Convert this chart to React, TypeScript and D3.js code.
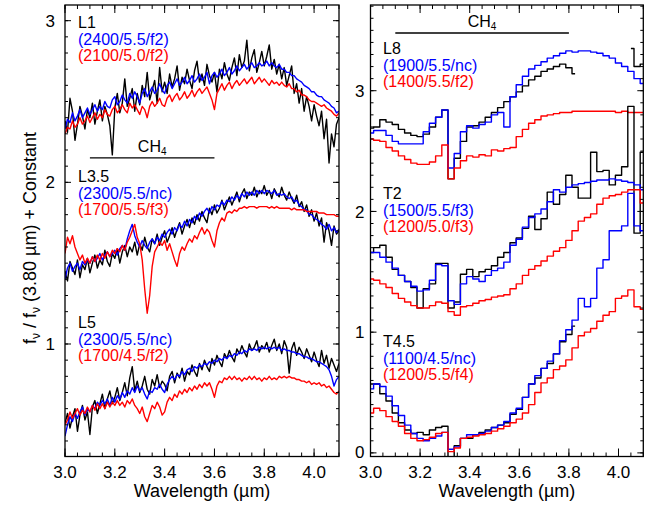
import * as d3 from 'd3'

const WIDTH = 650
const HEIGHT = 520
const FONT = '"Liberation Sans", Arial, Helvetica, sans-serif'
const BLACK = '#000000'
const BLUE = '#0000ff'
const RED = '#ff0000'

const TOP = 5
const BOTTOM = 456.5

// axis ticks
const X_TICKS = [3.0, 3.2, 3.4, 3.6, 3.8, 4.0]
const LEFT_Y_TICKS = [1, 2, 3]
const RIGHT_Y_TICKS = [0, 1, 2, 3]

// wavelength grids (um): full resolution (left) and binned (right)
const WAVE_FINE = [
  3.00, 3.01, 3.02, 3.03, 3.04, 3.05, 3.06, 3.07, 3.08, 3.09,
  3.10, 3.11, 3.12, 3.13, 3.14, 3.15, 3.16, 3.17, 3.18, 3.19,
  3.20, 3.21, 3.22, 3.23, 3.24, 3.25, 3.26, 3.27, 3.28, 3.29,
  3.30, 3.31, 3.32, 3.33, 3.34, 3.35, 3.36, 3.37, 3.38, 3.39,
  3.40, 3.41, 3.42, 3.43, 3.44, 3.45, 3.46, 3.47, 3.48, 3.49,
  3.50, 3.51, 3.52, 3.53, 3.54, 3.55, 3.56, 3.57, 3.58, 3.59,
  3.60, 3.61, 3.62, 3.63, 3.64, 3.65, 3.66, 3.67, 3.68, 3.69,
  3.70, 3.71, 3.72, 3.73, 3.74, 3.75, 3.76, 3.77, 3.78, 3.79,
  3.80, 3.81, 3.82, 3.83, 3.84, 3.85, 3.86, 3.87, 3.88, 3.89,
  3.90, 3.91, 3.92, 3.93, 3.94, 3.95, 3.96, 3.97, 3.98, 3.99,
  4.00, 4.01, 4.02, 4.03, 4.04, 4.05, 4.06, 4.07, 4.08, 4.09,
  4.10
]
const WAVE_BINNED = [
  3.000, 3.025, 3.050, 3.075, 3.100, 3.125, 3.150, 3.175, 3.200, 3.225,
  3.250, 3.275, 3.300, 3.325, 3.350, 3.375, 3.400, 3.425, 3.450, 3.475,
  3.500, 3.525, 3.550, 3.575, 3.600, 3.625, 3.650, 3.675, 3.700, 3.725,
  3.750, 3.775, 3.800, 3.825, 3.850, 3.875, 3.900, 3.925, 3.950, 3.975,
  4.000, 4.025, 4.050, 4.075, 4.100
]

// ---- left panel (L dwarfs) ----
const L1_OBS = [
  2.38, 2.31, 2.52, 2.44, 2.26, 2.36, 2.47, 2.41, 2.33, 2.45,
  2.40, 2.49, 2.36, 2.44, 2.51, 2.38, 2.47, 2.42, 2.35, 2.17,
  2.46, 2.55, 2.43, 2.49, 2.64, 2.47, 2.52, 2.58, 2.44, 2.55,
  2.48, 2.60, 2.53, 2.68, 2.51, 2.57, 2.63, 2.49, 2.71, 2.56,
  2.62, 2.55, 2.67, 2.59, 2.64, 2.72, 2.57, 2.65, 2.61, 2.70,
  2.63, 2.58, 2.69, 2.75, 2.62, 2.67, 2.60, 2.73, 2.66, 2.62,
  2.68, 2.56, 2.70, 2.64, 2.74, 2.67, 2.63, 2.71, 2.77, 2.66,
  2.79, 2.71, 2.75, 2.88, 2.69, 2.77, 2.82, 2.68, 2.74, 2.81,
  2.72, 2.78, 2.85, 2.70, 2.76, 2.67, 2.73, 2.64, 2.71, 2.60,
  2.66, 2.72, 2.55, 2.61, 2.49, 2.58, 2.44, 2.53, 2.47, 2.38,
  2.48, 2.41, 2.35, 2.44, 2.27, 2.39, 2.12, 2.30, 2.22, 2.36,
  2.40
]
const L1_HOT = [
  2.33, 2.39, 2.37, 2.43, 2.38, 2.41, 2.45, 2.40, 2.43, 2.46,
  2.42, 2.45, 2.48, 2.44, 2.47, 2.45, 2.50, 2.47, 2.46, 2.51,
  2.53, 2.48, 2.50, 2.54, 2.51, 2.49, 2.55, 2.52, 2.56, 2.53,
  2.49, 2.55, 2.58, 2.53, 2.56, 2.59, 2.55, 2.57, 2.61, 2.57,
  2.55, 2.60, 2.62, 2.58, 2.61, 2.64, 2.60, 2.62, 2.65, 2.61,
  2.63, 2.66, 2.62, 2.64, 2.67, 2.63, 2.65, 2.68, 2.61, 2.66,
  2.68, 2.65, 2.67, 2.70, 2.66, 2.68, 2.71, 2.67, 2.69, 2.72,
  2.69, 2.71, 2.73, 2.70, 2.72, 2.74, 2.71, 2.72, 2.74, 2.72,
  2.73, 2.75, 2.72, 2.74, 2.72, 2.71, 2.73, 2.70, 2.70, 2.68,
  2.68, 2.66, 2.66, 2.64, 2.63, 2.62, 2.60, 2.59, 2.58, 2.56,
  2.56, 2.54, 2.53, 2.53, 2.51, 2.50, 2.49, 2.47, 2.46, 2.43,
  2.44
]
const L1_COOL = [
  2.30, 2.34, 2.33, 2.38, 2.34, 2.36, 2.40, 2.36, 2.38, 2.41,
  2.37, 2.40, 2.43, 2.39, 2.42, 2.40, 2.45, 2.42, 2.41, 2.45,
  2.47, 2.43, 2.45, 2.48, 2.45, 2.43, 2.49, 2.46, 2.48, 2.45,
  2.42, 2.47, 2.45, 2.40, 2.47, 2.50, 2.47, 2.49, 2.52, 2.48,
  2.47, 2.52, 2.54, 2.50, 2.53, 2.55, 2.51, 2.53, 2.56, 2.52,
  2.54, 2.57, 2.53, 2.56, 2.58, 2.55, 2.57, 2.59, 2.55, 2.51,
  2.45, 2.55, 2.58, 2.61, 2.57, 2.60, 2.62, 2.58, 2.61, 2.63,
  2.60, 2.62, 2.64, 2.61, 2.63, 2.65, 2.61, 2.63, 2.65, 2.62,
  2.64, 2.62, 2.60, 2.63, 2.61, 2.62, 2.60, 2.62, 2.60, 2.59,
  2.61, 2.58, 2.58, 2.56, 2.57, 2.54, 2.54, 2.53, 2.51, 2.50,
  2.50, 2.49, 2.48, 2.47, 2.48, 2.46, 2.45, 2.44, 2.42, 2.41,
  2.43
]

const L35_OBS = [
  1.45, 1.39, 1.51, 1.47, 1.43, 1.52, 1.41, 1.49, 1.46, 1.53,
  1.44, 1.50, 1.55, 1.47, 1.52, 1.49, 1.58, 1.51, 1.48, 1.56,
  1.53, 1.59, 1.50, 1.57, 1.61, 1.54, 1.60, 1.57, 1.63, 1.55,
  1.62, 1.58, 1.66, 1.60, 1.57, 1.65, 1.62, 1.68, 1.61, 1.66,
  1.70, 1.63, 1.67, 1.72, 1.66, 1.71, 1.75, 1.68, 1.73, 1.77,
  1.72, 1.78, 1.74, 1.80, 1.76, 1.82, 1.78, 1.75, 1.84, 1.80,
  1.86, 1.81, 1.84, 1.89, 1.83, 1.87, 1.91, 1.86, 1.90, 1.94,
  1.88, 1.93, 1.96, 1.90, 1.94, 1.92, 1.97, 1.91, 1.95, 1.93,
  1.98, 1.92, 1.95, 1.90, 1.96, 1.93, 1.91, 1.97, 1.92, 1.89,
  1.94, 1.90, 1.87, 1.92, 1.85, 1.88, 1.82, 1.86, 1.79, 1.83,
  1.76, 1.81, 1.73, 1.78, 1.63, 1.75, 1.70, 1.61, 1.73, 1.68,
  1.70
]
const L35_HOT = [
  1.40, 1.47, 1.50, 1.45, 1.48, 1.50, 1.46, 1.51, 1.49, 1.52,
  1.50, 1.54, 1.51, 1.53, 1.56, 1.52, 1.55, 1.57, 1.54, 1.56,
  1.58, 1.55, 1.59, 1.61, 1.58, 1.65, 1.70, 1.74, 1.67, 1.63,
  1.60, 1.64, 1.61, 1.59, 1.63, 1.65, 1.62, 1.66, 1.64, 1.68,
  1.66, 1.69, 1.71, 1.68, 1.72, 1.70, 1.74, 1.72, 1.76, 1.73,
  1.77, 1.75, 1.79, 1.77, 1.81, 1.79, 1.82, 1.84, 1.81, 1.85,
  1.83, 1.86, 1.85, 1.88, 1.86, 1.89, 1.88, 1.91, 1.89, 1.92,
  1.90, 1.93, 1.91, 1.94, 1.92, 1.94, 1.92, 1.95, 1.93, 1.95,
  1.93, 1.95, 1.94, 1.93, 1.95, 1.92, 1.93, 1.92, 1.93, 1.91,
  1.90, 1.91, 1.88, 1.89, 1.86, 1.85, 1.83, 1.83, 1.80, 1.80,
  1.78, 1.77, 1.76, 1.74, 1.73, 1.71, 1.74, 1.70, 1.72, 1.69,
  1.71
]
const L35_COOL = [
  1.56, 1.66, 1.62, 1.67, 1.60, 1.56, 1.52, 1.55, 1.50, 1.53,
  1.50, 1.54, 1.51, 1.55, 1.52, 1.56, 1.53, 1.57, 1.54, 1.58,
  1.56, 1.59, 1.57, 1.61, 1.58, 1.63, 1.66, 1.70, 1.74, 1.66,
  1.62, 1.52, 1.34, 1.19, 1.30, 1.48, 1.57, 1.60, 1.63, 1.61,
  1.64, 1.58, 1.62, 1.57, 1.52, 1.48, 1.56, 1.60, 1.58, 1.62,
  1.65, 1.63, 1.67, 1.65, 1.69, 1.72, 1.68, 1.71, 1.69, 1.64,
  1.60, 1.70, 1.75, 1.78, 1.76, 1.81, 1.82, 1.81, 1.83, 1.82,
  1.84, 1.84, 1.85, 1.84, 1.85, 1.85, 1.85, 1.84, 1.85, 1.85,
  1.85, 1.85, 1.84, 1.85, 1.84, 1.85, 1.84, 1.84, 1.84, 1.84,
  1.84, 1.83, 1.84, 1.83, 1.83, 1.83, 1.83, 1.82, 1.82, 1.82,
  1.82, 1.82, 1.81, 1.81, 1.81, 1.80, 1.80, 1.80, 1.80, 1.79,
  1.79
]

const L5_OBS = [
  0.51, 0.57, 0.48, 0.55, 0.60, 0.46, 0.56, 0.62, 0.53, 0.58,
  0.44, 0.61, 0.65, 0.57, 0.63, 0.69, 0.60, 0.66, 0.71, 0.63,
  0.67, 0.73, 0.65, 0.70, 0.76, 0.68, 0.79, 0.86, 0.71, 0.77,
  0.70, 0.74, 0.80, 0.72, 0.69, 0.78, 0.74, 0.81, 0.73, 0.77,
  0.75, 0.71, 0.80, 0.83, 0.76, 0.82, 0.79, 0.85, 0.77, 0.83,
  0.81, 0.87, 0.83, 0.80, 0.88, 0.84, 0.90, 0.86, 0.83, 0.91,
  0.87, 0.93, 0.89, 0.86, 0.94, 0.91, 0.96, 0.92, 0.89, 0.97,
  0.94, 0.99, 0.95, 0.92, 1.00, 0.96, 0.98, 1.02, 0.95, 0.99,
  0.97, 1.01, 0.95, 0.99, 1.03, 0.96, 1.00, 0.94, 1.02, 0.98,
  0.82, 0.97, 1.01, 0.93, 0.98, 0.95, 0.91, 0.97, 0.93, 0.89,
  0.95, 0.90, 0.86, 0.96, 0.88, 0.93, 0.85, 0.91, 0.87, 0.83,
  0.88
]
const L5_HOT = [
  0.43, 0.50, 0.55, 0.52, 0.57, 0.54, 0.58, 0.61, 0.56, 0.60,
  0.58, 0.62, 0.60, 0.64, 0.62, 0.65, 0.63, 0.66, 0.62, 0.67,
  0.64, 0.68, 0.66, 0.70, 0.67, 0.71, 0.69, 0.73, 0.70, 0.74,
  0.71, 0.73, 0.69, 0.66, 0.71, 0.70, 0.73, 0.72, 0.75, 0.72,
  0.70, 0.75, 0.78, 0.80, 0.78, 0.81, 0.80, 0.83, 0.81, 0.84,
  0.85, 0.83, 0.86, 0.85, 0.87, 0.86, 0.88, 0.87, 0.89, 0.88,
  0.90, 0.89, 0.91, 0.90, 0.92, 0.91, 0.93, 0.92, 0.94, 0.93,
  0.95, 0.94, 0.96, 0.95, 0.97, 0.96, 0.97, 0.96, 0.98, 0.97,
  0.98, 0.97, 0.98, 0.97, 0.98, 0.97, 0.98, 0.96, 0.97, 0.96,
  0.96, 0.95, 0.95, 0.94, 0.94, 0.93, 0.92, 0.92, 0.91, 0.91,
  0.90, 0.89, 0.89, 0.88, 0.87, 0.86, 0.84, 0.80, 0.74, 0.78,
  0.80
]
const L5_COOL = [
  0.50, 0.53, 0.58, 0.54, 0.57, 0.60, 0.56, 0.59, 0.57, 0.61,
  0.58, 0.62, 0.59, 0.63, 0.60, 0.63, 0.60, 0.64, 0.61, 0.64,
  0.62, 0.65, 0.62, 0.64, 0.61, 0.65, 0.63, 0.66, 0.62, 0.60,
  0.57, 0.61, 0.55, 0.52, 0.57, 0.62, 0.60, 0.64, 0.61, 0.56,
  0.58, 0.64, 0.67, 0.65, 0.69, 0.67, 0.71, 0.69, 0.72, 0.70,
  0.73, 0.71, 0.74, 0.72, 0.75, 0.73, 0.76, 0.74, 0.76, 0.72,
  0.67, 0.74, 0.77, 0.76, 0.79, 0.78, 0.80, 0.78, 0.80, 0.78,
  0.79, 0.77, 0.79, 0.78, 0.80, 0.78, 0.80, 0.78, 0.79, 0.77,
  0.79, 0.78, 0.80, 0.78, 0.79, 0.78, 0.80, 0.79, 0.80, 0.79,
  0.80, 0.79, 0.79, 0.78, 0.78, 0.77, 0.77, 0.76, 0.77, 0.75,
  0.76, 0.75, 0.76, 0.74, 0.75, 0.73, 0.74, 0.72, 0.70, 0.69,
  0.71
]

// ---- right panel (late L and T dwarfs, binned) ----
const L8_OBS = [
  2.69, 2.70, 2.76, 2.74, 2.72, 2.68, 2.65, 2.63, 2.62, 2.64,
  2.70, 2.78, 2.84, 2.27, 2.44, 2.58, 2.70, 2.71, 2.74, 2.78,
  2.82, 2.86, 2.91, 2.95, 2.99, 3.04, 3.09, 3.12, 3.16, 3.18,
  3.20, 3.22, 3.19, 3.14, null, null, null, null, null, null,
  null, null, 3.35, 3.20, 3.22
]
const L8_HOT = [
  2.65, 2.67, 2.67, 2.63, 2.58, 2.56, 2.56, 2.56, 2.56, 2.66,
  2.73, 2.78, 2.84, 2.36, 2.48, 2.66, 2.71, 2.69, 2.72, 2.74,
  2.80, 2.82, 2.70, 2.95, 3.05, 3.12, 3.18, 3.21, 3.24, 3.27,
  3.29, 3.31, 3.33, 3.32, 3.33, 3.33, 3.32, 3.31, 3.29, 3.27,
  3.23, 3.20, 3.16, 3.10, 3.06
]
const L8_COOL = [
  2.60, 2.59, 2.58, 2.53, 2.50, 2.46, 2.43, 2.40, 2.39, 2.39,
  2.41, 2.46, 2.55, 2.27, 2.36, 2.42, 2.46, 2.45, 2.47, 2.46,
  2.51, 2.50, 2.52, 2.53, 2.62, 2.68, 2.73, 2.76, 2.79, 2.80,
  2.81, 2.82, 2.82, 2.83, 2.83, 2.83, 2.83, 2.83, 2.83, 2.83,
  2.82, 2.83, 2.82, 2.82, 2.82
]

const T2_OBS = [
  1.66, 1.70, 1.72, 1.62, 1.52, 1.47, 1.42, 1.37, 1.20, 1.36,
  1.40, 1.57, 1.57, 1.20, 1.25, 1.48, 1.52, 1.46, 1.50, 1.52,
  1.55, 1.62, 1.66, 1.74, 1.78, 1.86, 1.96, 1.85, 1.94, 2.16,
  2.06, 2.14, 2.30, 2.20, 2.11, 2.11, 2.49, 2.33, 2.34, 2.22,
  2.30, 2.37, 2.87, 1.82, 2.49
]
const T2_HOT = [
  1.66, 1.66, 1.62, 1.58, 1.53, 1.47, 1.42, 1.38, 1.34, 1.35,
  1.43, 1.56, 1.55, 1.26, 1.23, 1.40, 1.46, 1.44, 1.42, 1.47,
  1.51, 1.53, 1.58, 1.72, 1.77, 1.87, 1.95, 1.98, 2.02, 2.08,
  2.18, 2.16, 2.20, 2.22, 2.23, 2.24, 2.25, 2.26, 2.26, 2.27,
  2.26, 2.25, 2.24, 2.22, 2.18
]
const T2_COOL = [
  1.44, 1.43, 1.40, 1.37, 1.32, 1.28, 1.25, 1.22, 1.20, 1.20,
  1.22, 1.25, 1.24, 1.17, 1.14, 1.21, 1.22, 1.24, 1.26, 1.27,
  1.29, 1.30, 1.31, 1.36, 1.40, 1.47, 1.52, 1.55, 1.59, 1.63,
  1.67, 1.70, 1.76, 1.84, 1.92, 1.95, 1.98, 2.06, 2.11, 2.13,
  2.14, 2.16, 2.18, 2.18, 2.07
]

const T45_OBS = [
  0.57, 0.57, 0.49, 0.43, 0.33, 0.25, 0.19, 0.16, 0.17, 0.15,
  0.19, 0.21, 0.22, -0.05, 0.06, 0.12, 0.12, 0.15, 0.17, 0.19,
  0.21, 0.23, 0.25, 0.32, 0.36, 0.46, 0.57, 0.62, 0.70, 0.74,
  0.82, 0.92, 0.98, 1.05, null, null, null, null, null, null,
  null, null, null, null, null
]
const T45_HOT = [
  0.53, 0.57, 0.55, 0.47, 0.39, 0.31, 0.23, 0.16, 0.12, 0.10,
  0.12, 0.14, 0.17, 0.03, 0.05, 0.12, 0.15, 0.15, 0.16, 0.18,
  0.21, 0.23, 0.26, 0.33, 0.37, 0.46, 0.57, 0.64, 0.70, 0.76,
  0.82, 0.93, 1.02, 1.10, 1.28, 1.21, 1.28, 1.53, 1.60, 1.84,
  1.84, 1.88, 2.15, 1.88, 1.84
]
const T45_COOL = [
  0.33, 0.37, 0.35, 0.30, 0.26, 0.22, 0.16, 0.12, 0.10, 0.11,
  0.13, 0.16, 0.17, 0.01, 0.04, 0.12, 0.13, 0.14, 0.15, 0.16,
  0.18, 0.20, 0.22, 0.25, 0.28, 0.33, 0.40, 0.50, 0.58, 0.62,
  0.69, 0.72, 0.77, 0.87, 0.97, 1.00, 1.03, 1.09, 1.14, 1.17,
  1.28, 1.30, 1.35, 1.21, 1.19
]

type Block = {
  name: string
  hot: string
  cool: string
  baseline: number
  obs: (number | null)[]
  hotFlux: (number | null)[]
  coolFlux: (number | null)[]
}

const LEFT_BLOCKS: Block[] = [
  { name: 'L1', hot: '(2400/5.5/f2)', cool: '(2100/5.0/f2)', baseline: 28, obs: L1_OBS, hotFlux: L1_HOT, coolFlux: L1_COOL },
  { name: 'L3.5', hot: '(2300/5.5/nc)', cool: '(1700/5.5/f3)', baseline: 182, obs: L35_OBS, hotFlux: L35_HOT, coolFlux: L35_COOL },
  { name: 'L5', hot: '(2300/5.5/nc)', cool: '(1700/4.5/f2)', baseline: 328, obs: L5_OBS, hotFlux: L5_HOT, coolFlux: L5_COOL }
]

const RIGHT_BLOCKS: Block[] = [
  { name: 'L8', hot: '(1900/5.5/nc)', cool: '(1400/5.5/f2)', baseline: 54, obs: L8_OBS, hotFlux: L8_HOT, coolFlux: L8_COOL },
  { name: 'T2', hot: '(1500/5.5/f3)', cool: '(1200/5.0/f3)', baseline: 199, obs: T2_OBS, hotFlux: T2_HOT, coolFlux: T2_COOL },
  { name: 'T4.5', hot: '(1100/4.5/nc)', cool: '(1200/5.5/f4)', baseline: 347, obs: T45_OBS, hotFlux: T45_HOT, coolFlux: T45_COOL }
]

type PanelProps = {
  id: string
  left: number
  right: number
  yDomain: [number, number]
  yTicks: number[]
  wave: number[]
  blocks: Block[]
  step: boolean
  labelX: number
  tickLabelGap: number
  ch4: { from: number; to: number; level: number }
}

function Panel({ id, left, right, yDomain, yTicks, wave, blocks, step, labelX, tickLabelGap, ch4 }: PanelProps) {
  const x = d3.scaleLinear().domain([3.0, 4.1]).range([left, right])
  const y = d3.scaleLinear().domain(yDomain).range([BOTTOM, TOP])

  const line = d3.line<number | null>()
    .defined(d => d != null)
    .x((_, i) => x(wave[i]))
    .y(d => y(d as number))
    .curve(step ? d3.curveStep : d3.curveLinear)

  const xMinor = d3.range(0, 23).map(i => 3.0 + i * 0.05)
  const yMinor = d3.range(Math.ceil(yDomain[0] * 10), Math.floor(yDomain[1] * 10) + 1).map(i => i / 10)

  const chY = y(ch4.level)
  const chMid = (x(ch4.from) + x(ch4.to)) / 2

  return (
    <g>
      <clipPath id={id}>
        <rect x={left} y={TOP} width={right - left} height={BOTTOM - TOP} />
      </clipPath>

      {/* spectra */}
      <g clipPath={`url(#${id})`} fill="none" strokeWidth={1.4} strokeLinejoin="round">
        {blocks.map(b => (
          <g key={b.name}>
            <path d={line(b.obs) ?? ''} stroke={BLACK} />
            <path d={line(b.hotFlux) ?? ''} stroke={BLUE} />
            <path d={line(b.coolFlux) ?? ''} stroke={RED} />
          </g>
        ))}
      </g>

      {/* frame */}
      <rect x={left} y={TOP} width={right - left} height={BOTTOM - TOP} fill="none" stroke="#000" strokeWidth={1.3} />

      {/* x ticks, top and bottom */}
      {xMinor.map((t, i) => (
        <g key={`xm${i}`} stroke="#000" strokeWidth={1}>
          <line x1={x(t)} x2={x(t)} y1={BOTTOM} y2={BOTTOM - 4} />
          <line x1={x(t)} x2={x(t)} y1={TOP} y2={TOP + 4} />
        </g>
      ))}
      {X_TICKS.map(t => (
        <g key={`xM${t}`}>
          <line x1={x(t)} x2={x(t)} y1={BOTTOM} y2={BOTTOM - 8} stroke="#000" strokeWidth={1} />
          <line x1={x(t)} x2={x(t)} y1={TOP} y2={TOP + 8} stroke="#000" strokeWidth={1} />
          <text x={x(t)} y={478} textAnchor="middle" fontSize={17}>{t.toFixed(1)}</text>
        </g>
      ))}

      {/* y ticks, left and right */}
      {yMinor.map((t, i) => (
        <g key={`ym${i}`} stroke="#000" strokeWidth={1}>
          <line x1={left} x2={left + 3} y1={y(t)} y2={y(t)} />
          <line x1={right} x2={right - 3} y1={y(t)} y2={y(t)} />
        </g>
      ))}
      {yTicks.map(t => (
        <g key={`yM${t}`}>
          <line x1={left} x2={left + 6} y1={y(t)} y2={y(t)} stroke="#000" strokeWidth={1} />
          <line x1={right} x2={right - 6} y1={y(t)} y2={y(t)} stroke="#000" strokeWidth={1} />
          <text x={left - tickLabelGap} y={Math.min(y(t), BOTTOM - 5)} dy="0.36em" textAnchor="end" fontSize={17}>{t}</text>
        </g>
      ))}

      {/* CH4 band marker */}
      <line x1={x(ch4.from)} x2={x(ch4.to)} y1={chY} y2={chY} stroke="#000" strokeWidth={1.3} />
      <text x={chMid} y={chY - 6} textAnchor="middle" fontSize={16}>
        CH<tspan fontSize={10} dy={3}>4</tspan>
      </text>

      {/* object labels */}
      {blocks.map(b => (
        <g key={`lab${b.name}`} fontSize={16}>
          <text x={labelX} y={b.baseline} fill={BLACK}>{b.name}</text>
          <text x={labelX} y={b.baseline + 16.5} fill={BLUE}>{b.hot}</text>
          <text x={labelX} y={b.baseline + 33} fill={RED}>{b.cool}</text>
        </g>
      ))}

      <text x={(left + right) / 2} y={497} textAnchor="middle" fontSize={18}>Wavelength (µm)</text>
    </g>
  )
}

export default function App() {
  return (
    <svg
      width={WIDTH}
      height={HEIGHT}
      style={{ position: 'absolute', left: 0, top: 0, background: '#fff' }}
      fontFamily={FONT}
    >
      <Panel
        id="clip-left"
        left={65}
        right={339}
        yDomain={[0.304, 3.097]}
        yTicks={LEFT_Y_TICKS}
        wave={WAVE_FINE}
        blocks={LEFT_BLOCKS}
        step={false}
        labelX={78}
        tickLabelGap={10}
        ch4={{ from: 3.1, to: 3.6, level: 2.151 }}
      />
      <Panel
        id="clip-right"
        left={370.5}
        right={643.3}
        yDomain={[-0.03, 3.71]}
        yTicks={RIGHT_Y_TICKS}
        wave={WAVE_BINNED}
        blocks={RIGHT_BLOCKS}
        step={true}
        labelX={383}
        tickLabelGap={6}
        ch4={{ from: 3.1, to: 3.8, level: 3.478 }}
      />

      {/* shared y label */}
      <text transform="translate(36,238) rotate(-90)" textAnchor="middle" fontSize={18}>
        f<tspan fontSize={12} dy={4}>ν</tspan>
        <tspan dy={-4}> / f</tspan>
        <tspan fontSize={12} dy={4}>ν</tspan>
        <tspan dy={-4}> (3.80 µm) + Constant</tspan>
      </text>
    </svg>
  )
}
